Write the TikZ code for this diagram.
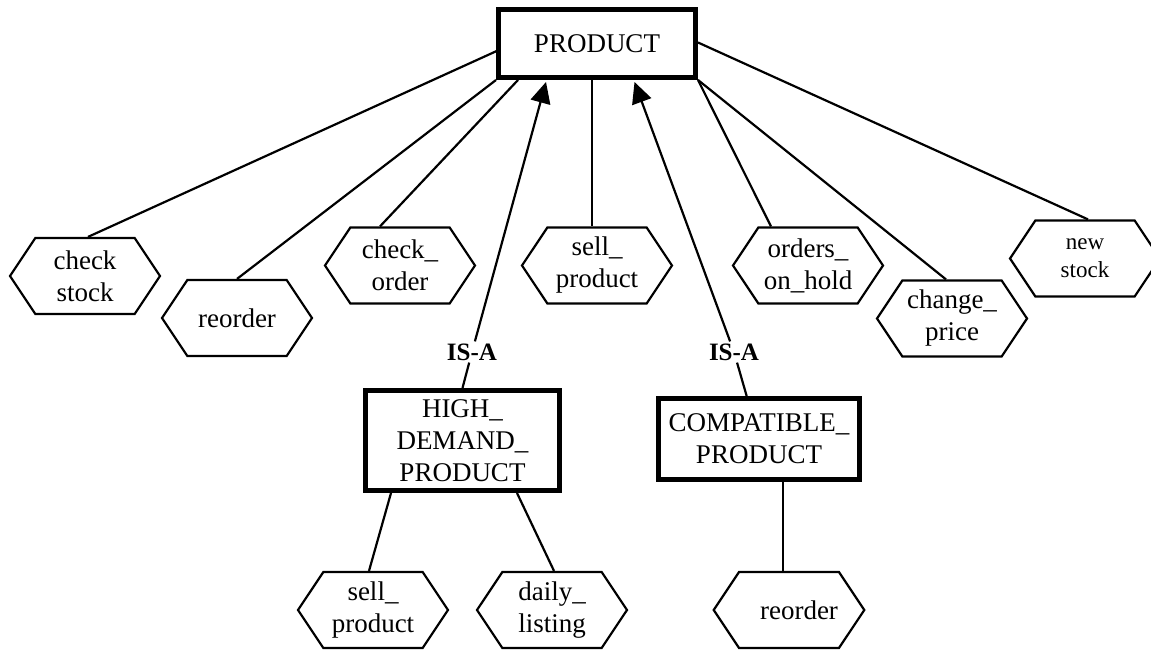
\documentclass[tikz,border=0pt]{standalone}
\usepackage{fontspec}
\setmainfont{Liberation Serif}
\usetikzlibrary{shapes.symbols,calc,arrows.meta}

\begin{document}
\begin{tikzpicture}[x=1pt,y=-1pt,
    font=\fontsize{27}{32}\selectfont,
    entity/.style={draw, line width=5pt, align=center, inner sep=2pt},
    opbox/.style={draw, line width=2.2pt, signal, signal to=west and east,
      signal pointer angle=112.6, minimum width=150, minimum height=76,
      align=center, inner sep=1pt},
    link/.style={line width=2.2pt},
    isa/.style={font=\fontsize{25}{30}\selectfont\bfseries, inner sep=2pt}]
  \useasboundingbox (0,0) rectangle (1151,650);

  % entities
  \node[entity, minimum width=197, minimum height=68] (prod) at (597,43.5) {PRODUCT};
  \node[entity, minimum width=194, minimum height=100] (high) at (462.5,440.5) {HIGH\_\\DEMAND\_\\PRODUCT};
  \node[entity, minimum width=201, minimum height=81] (compat) at (759,439) {COMPATIBLE\_\\PRODUCT};

  % operations of PRODUCT
  \node[opbox] (chkstock) at (85,276) {check\\stock};
  \node[opbox] (reord) at (237,318) {reorder};
  \node[opbox] (chkorder) at (400,265.5) {check\_\\order};
  \node[opbox] (sell) at (597,265.5) {sell\_\\product};
  \node[opbox] (onhold) at (808,265.5) {orders\_\\on\_hold};
  \node[opbox] (price) at (952,318.5) {change\_\\price};
  \node[opbox, font=\fontsize{23}{28}\selectfont] (newstock) at (1085,258.5) {new\\stock};

  % operations of the subclasses
  \node[opbox] (hsell) at (373,610) {sell\_\\product};
  \node[opbox] (daily) at (552,610) {daily\_\\listing};
  \node[opbox] (creord) at (789,610) {\hspace*{20pt}reorder};

  % IS-A labels
  \node[isa] (isa1) at (472,352) {IS-A};
  \node[isa] (isa2) at (734,352) {IS-A};

  \draw[link] ($(prod.west)+(4,6)$) -- ($(chkstock.north)+(3,0)$);
  \draw[link] (prod.south west) -- (reord.north);
  \draw[link] ($(prod.south west)+(22,0)$) -- ($(chkorder.north)+(-20,0)$);
  \draw[link] ($(prod.south)+(-5,0)$) -- ($(sell.north)+(-5,0)$);
  \draw[link] (prod.south east) -- ($(onhold.north)+(-37,0)$);
  \draw[link] (prod.south east) -- ($(price.north)+(-6,0)$);
  \draw[link] ($(prod.east)+(0,-1)$) -- ($(newstock.north)+(3,0)$);

  \draw[link] (high.north) -- (isa1);
  \draw[link, -{Triangle[length=21pt,width=20pt]}] (isa1) -- ($(prod.south west)+(50,2)$);
  \draw[link] (compat) -- (isa2);
  \draw[link, -{Triangle[length=21pt,width=20pt]}] (isa2) -- ($(prod.south west)+(138.5,2)$);

  \draw[link] ($(high.south west)+(28,0)$) -- ($(hsell.north)+(-4,0)$);
  \draw[link] ($(high.south east)+(-45,0)$) -- ($(daily.north)+(2,0)$);
  \draw[link] ($(compat.south)+(24,0)$) -- ($(creord.north)+(-6,0)$);
\end{tikzpicture}
\end{document}
